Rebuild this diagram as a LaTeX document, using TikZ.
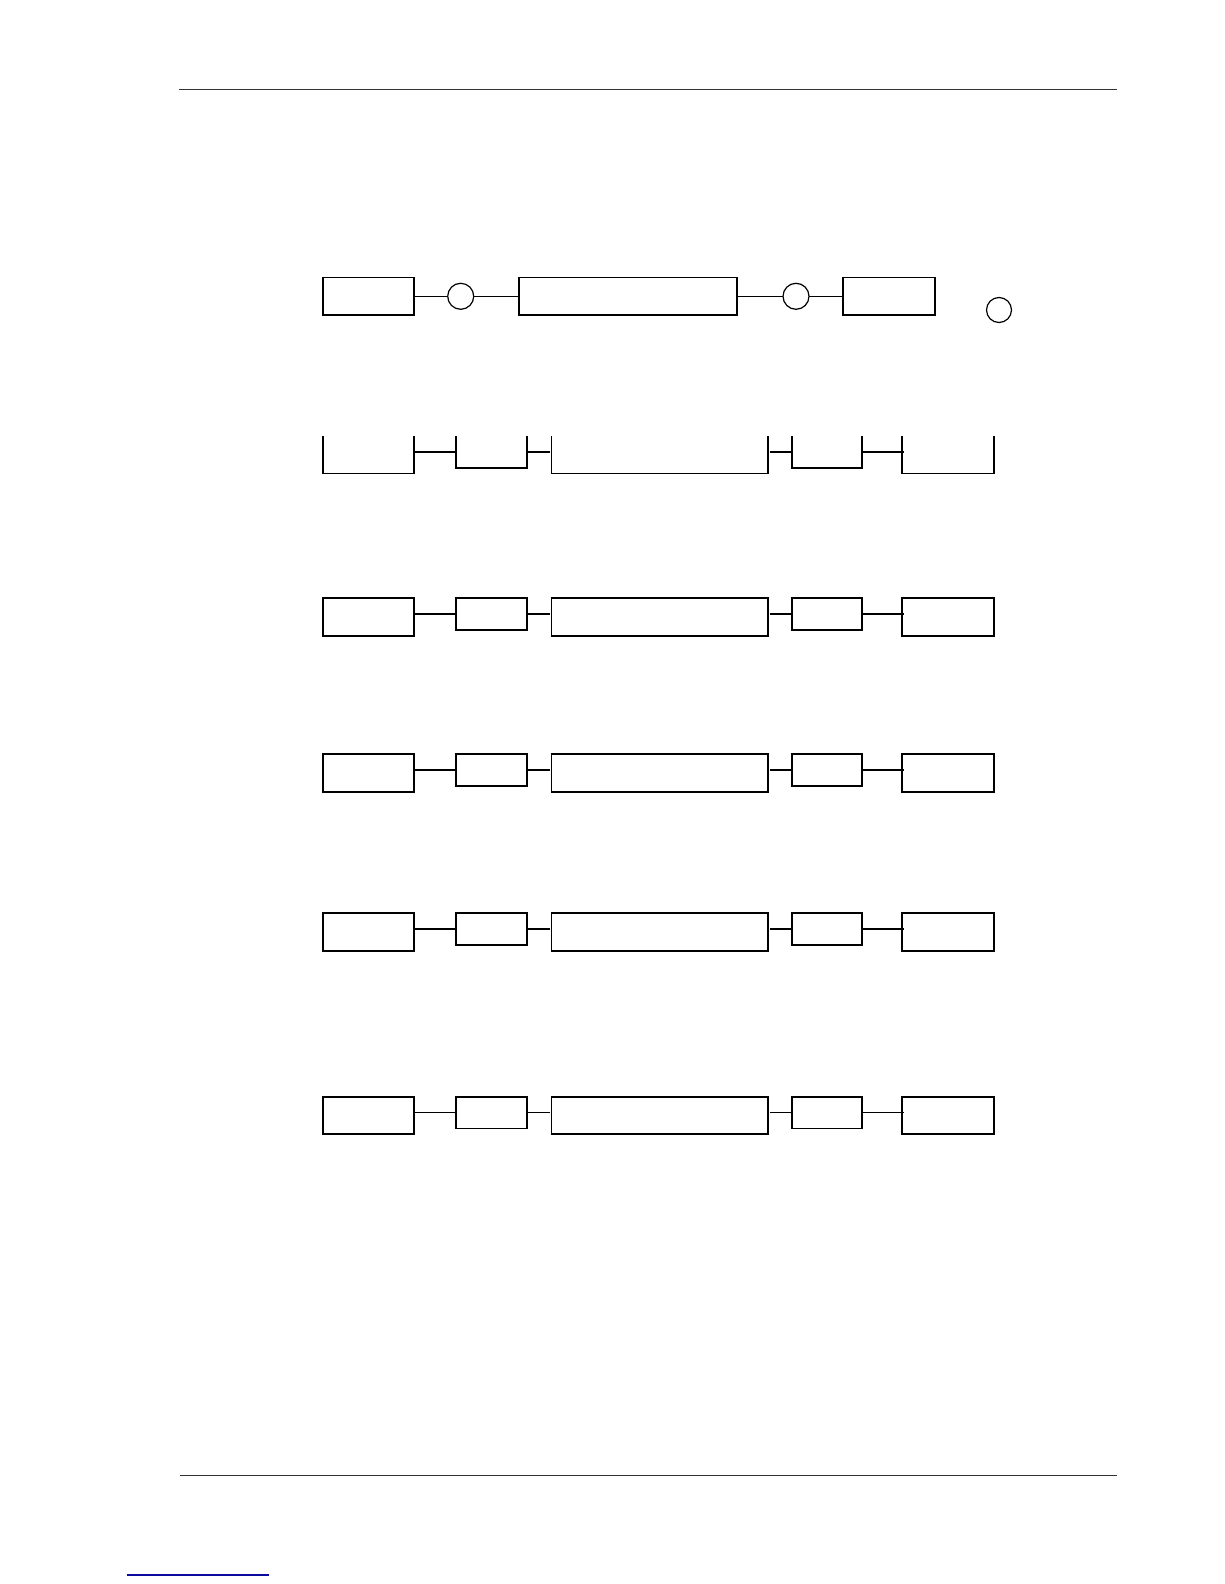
\documentclass[tikz,border=0pt]{standalone}
\begin{document}
\begin{tikzpicture}[x=1pt,y=-1pt,
  box/.style={draw, line width=1.8pt, inner sep=0pt, outer sep=0pt, minimum height=37.5pt},
  ibox/.style={box, minimum height=31.7pt},
  obox/.style={inner sep=0pt, outer sep=0pt, minimum height=37.5pt},
  iobox/.style={obox, minimum height=31.7pt},
  thick wire/.style={line width=1.7pt},
  thin wire/.style={line width=1pt},
  ring/.style={draw, circle, line width=1.2pt, inner sep=0pt, outer sep=0pt, minimum size=26pt},
  pagerule/.style={line width=1.3pt, draw=black!80},
  link/.style={line width=1.1pt, draw={rgb,255:red,10;green,10;blue,160}}
]
\useasboundingbox (0,0) rectangle (1224,1584);

% page rules
\coordinate (h1) at (179,89.3);
\coordinate (h2) at (1116.7,89.3);
\draw[pagerule] (h1) -- (h2);
\coordinate (f1) at (180,1475.3);
\coordinate (f2) at (1116.7,1475.3);
\draw[pagerule, line width=1.5pt] (f1) -- (f2);
\coordinate (l1) at (126.7,1575);
\coordinate (l2) at (269,1575);
\draw[link] (l1) -- (l2);

% row 1
\node[box, minimum width=91pt] (a1) at (368.8,296.3) {};
\node[ring] (c1) at (460.7,296.3) {};
\node[box, minimum width=218pt] (a2) at (628.3,296.3) {};
\node[ring] (c2) at (796,296.3) {};
\node[box, minimum width=92.6pt] (a3) at (889,296.3) {};
\node[ring, minimum size=25pt] (c3) at (999,310) {};
\draw[thin wire] (a1.east) -- (c1.west);
\draw[thin wire] (c1.east) -- (a2.west);
\draw[thin wire] (a2.east) -- (c2.west);
\draw[thin wire] (c2.east) -- (a3.west);

% row 2 (open-topped boxes)
\node[obox, minimum width=91pt] (r2-b1) at (368.8,454.75) {};
\node[iobox, minimum width=71.6pt] (r2-b2) at (491.5,451.85) {};
\node[obox, minimum width=216.8pt] (r2-b3) at (659.9,454.75) {};
\node[iobox, minimum width=70.6pt] (r2-b4) at (827,451.85) {};
\node[obox, minimum width=92.3pt] (r2-b5) at (947.85,454.75) {};
\foreach \n in {1,...,5}{
  \draw[line width=1.8pt, line join=miter]
    (r2-b\n.north west) -- (r2-b\n.south west) -- (r2-b\n.south east) -- (r2-b\n.north east);
}
\draw[thick wire] (r2-b1.east |- r2-b2.west) -- (r2-b2.west);
\draw[thick wire] (r2-b2.east) -- ([xshift=-1.5pt]r2-b3.west |- r2-b2.east);
\draw[thick wire] ([xshift=1.7pt]r2-b3.east |- r2-b4.west) -- (r2-b4.west);
\draw[thick wire] (r2-b4.east) -- ([xshift=2.3pt]r2-b5.west |- r2-b4.east);

% rows 3-6 (closed boxes)
\foreach \r/\t/\ws in {3/598.3/thick wire, 4/754.3/thick wire, 5/913.3/thick wire, 6/1096.7/thin wire}{
  \node[box, minimum width=91pt] (r\r-b1) at (368.8,{\t+18.75}) {};
  \node[ibox, minimum width=71.6pt] (r\r-b2) at (491.5,{\t+15.85}) {};
  \node[box, minimum width=216.8pt] (r\r-b3) at (659.9,{\t+18.75}) {};
  \node[ibox, minimum width=70.6pt] (r\r-b4) at (827,{\t+15.85}) {};
  \node[box, minimum width=92.3pt] (r\r-b5) at (947.85,{\t+18.75}) {};
  \draw[\ws] (r\r-b1.east |- r\r-b2.west) -- (r\r-b2.west);
  \draw[\ws] (r\r-b2.east) -- ([xshift=-1.5pt]r\r-b3.west |- r\r-b2.east);
  \draw[\ws] ([xshift=1.7pt]r\r-b3.east |- r\r-b4.west) -- (r\r-b4.west);
  \draw[\ws] (r\r-b4.east) -- ([xshift=2.3pt]r\r-b5.west |- r\r-b4.east);
}
\end{tikzpicture}
\end{document}
